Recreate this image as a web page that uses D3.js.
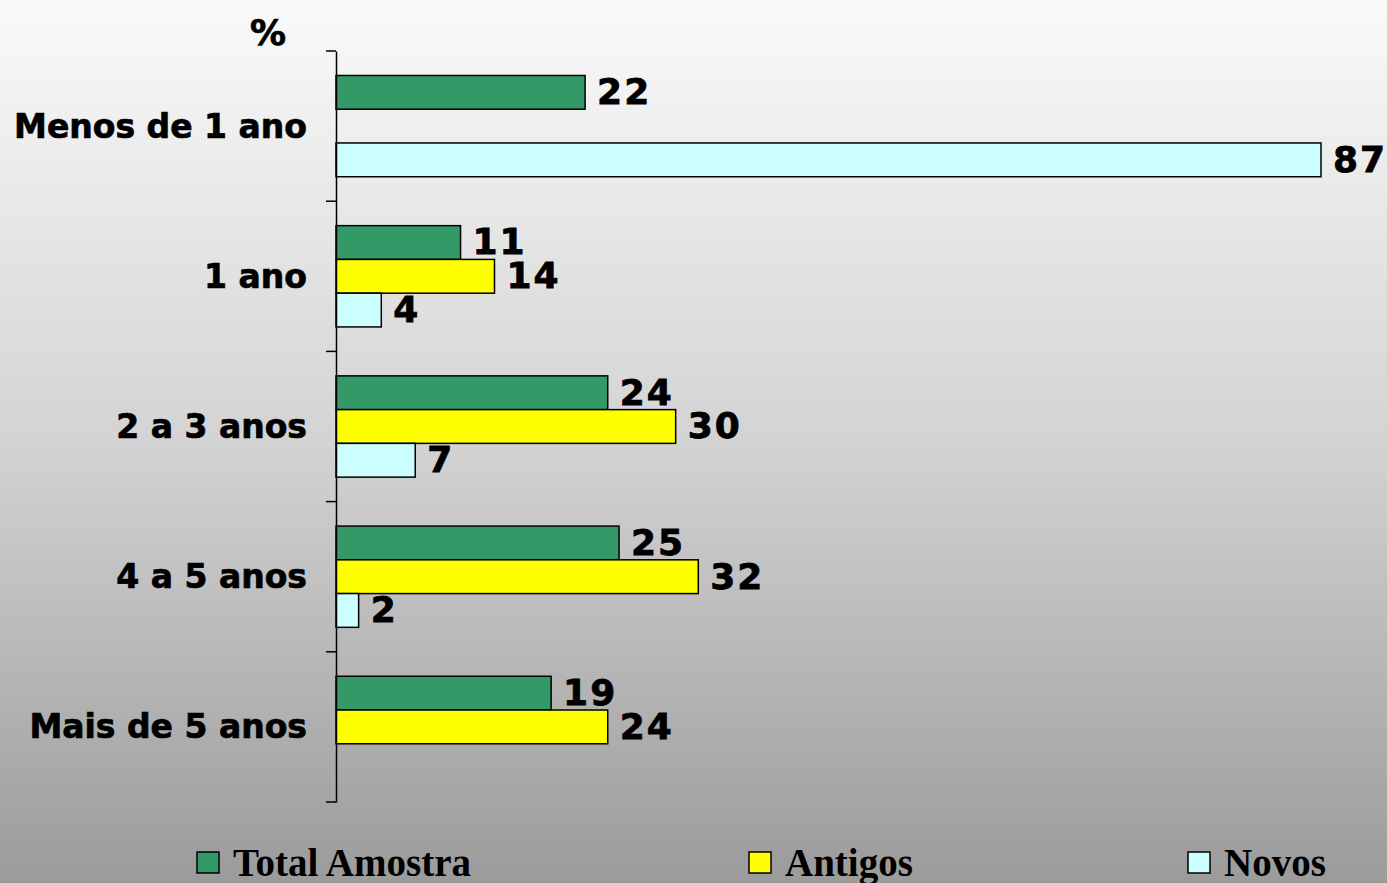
<!DOCTYPE html>
<html>
<head>
<meta charset="utf-8">
<script src="https://cdn.jsdelivr.net/npm/d3@7"></script>
<style>
  html, body { margin: 0; padding: 0; }
  body { width: 1387px; height: 883px; overflow: hidden; }
</style>
</head>
<body>
<div id="app1"></div>
<script>
'use strict';

const categories = ["Menos de 1 ano", "1 ano", "2 a 3 anos", "4 a 5 anos", "Mais de 5 anos"];
const series = ["Total Amostra", "Antigos", "Novos"];
const totalAmostra = [22, 11, 24, 25, 19];
const antigos = [null, 14, 30, 32, 24];
const novos = [87, 4, 7, 2, null];
const colors = ["#339966", "#ffff00", "#ccffff"];

const width = 1387;
const height = 883;
const marginTop = 51;
const marginBottom = 81;
const marginLeft = 336;
const marginRight = 66;

const values = [totalAmostra, antigos, novos];
const data = [];
categories.forEach((c, i) => {
  series.forEach((s, j) => {
    if (values[j][i] != null) data.push({cat: c, serie: s, value: values[j][i]});
  });
});

// escalas
const x = d3.scaleLinear()
  .domain([0, 87])
  .range([marginLeft, width - marginRight]);

const y = d3.scaleBand()
  .domain(categories)
  .range([marginTop, height - marginBottom]);

const ySub = d3.scaleBand()
  .domain(series)
  .range([0, y.bandwidth()])
  .paddingInner(0)
  .paddingOuter(0.725);

const color = d3.scaleOrdinal().domain(series).range(colors);

const svg = d3.select("#app1")
  .append("svg")
  .attr("width", width)
  .attr("height", height)
  .attr("viewBox", [0, 0, width, height]);

// fundo em degradê
const grad = svg.append("defs").append("linearGradient")
  .attr("id", "bg")
  .attr("x1", 0).attr("y1", 0).attr("x2", 0).attr("y2", 1);
grad.append("stop").attr("offset", "0%").attr("stop-color", "#fafafa");
grad.append("stop").attr("offset", "50%").attr("stop-color", "#d3d3d3");
grad.append("stop").attr("offset", "100%").attr("stop-color", "#9b9b9b");

svg.append("rect")
  .attr("width", width)
  .attr("height", height)
  .attr("fill", "url(#bg)");

// barras
svg.append("g")
  .attr("stroke", "#000")
  .attr("stroke-width", 1.5)
  .selectAll("rect")
  .data(data)
  .join("rect")
    .attr("x", x(0))
    .attr("y", d => y(d.cat) + ySub(d.serie))
    .attr("width", d => x(d.value) - x(0))
    .attr("height", ySub.bandwidth())
    .attr("fill", d => color(d.serie));

// rótulos dos valores
svg.append("g")
  .attr("font-family", "'DejaVu Sans', Verdana, sans-serif")
  .attr("font-weight", "bold")
  .attr("font-size", 36)
  .attr("letter-spacing", 2)
  .attr("stroke", "#000")
  .attr("stroke-width", 0.8)
  .selectAll("text")
  .data(data)
  .join("text")
    .attr("x", d => x(d.value) + 12)
    .attr("y", d => y(d.cat) + ySub(d.serie) + ySub.bandwidth() / 2)
    .attr("dy", "0.33em")
    .text(d => d.value);

// eixo
svg.append("g")
  .attr("transform", `translate(${marginLeft},0)`)
  .call(d3.axisLeft(y).tickSize(0).tickPadding(29).tickSizeOuter(0))
  .call(g => g.select(".domain").attr("stroke", "#000").attr("stroke-width", 1.5))
  .call(g => g.selectAll(".tick text")
    .attr("fill", "#000")
    .attr("stroke", "#000")
    .attr("stroke-width", 0.7)
    .attr("font-family", "'DejaVu Sans', Verdana, sans-serif")
    .attr("font-weight", "bold")
    .attr("font-size", 33)
    .attr("dy", "0.35em"))
  .call(g => g.append("g")
    .selectAll("line")
    .data(categories.map(c => y(c)).concat([y.range()[1]]))
    .join("line")
      .attr("x1", -10)
      .attr("x2", 0)
      .attr("y1", d => d)
      .attr("y2", d => d)
      .attr("stroke", "#000")
      .attr("stroke-width", 1.5));

svg.append("text")
  .attr("x", 268)
  .attr("y", 45)
  .attr("text-anchor", "middle")
  .attr("font-family", "'DejaVu Sans', Verdana, sans-serif")
  .attr("font-weight", "bold")
  .attr("font-size", 36)
  .attr("stroke", "#000")
  .attr("stroke-width", 0.7)
  .text("%");

// legenda
const legendX = [197, 749, 1188];
const legend = svg.append("g")
  .selectAll("g")
  .data(series)
  .join("g")
    .attr("transform", (d, i) => `translate(${legendX[i]},852)`);

legend.append("rect")
  .attr("width", 22)
  .attr("height", 21)
  .attr("fill", d => color(d))
  .attr("stroke", "#000")
  .attr("stroke-width", 1.5);

legend.append("text")
  .attr("x", 36)
  .attr("y", 24)
  .attr("font-family", "'Liberation Serif', 'Times New Roman', serif")
  .attr("font-weight", "bold")
  .attr("font-size", 39)
  .text(d => d);
</script>
</body>
</html>
